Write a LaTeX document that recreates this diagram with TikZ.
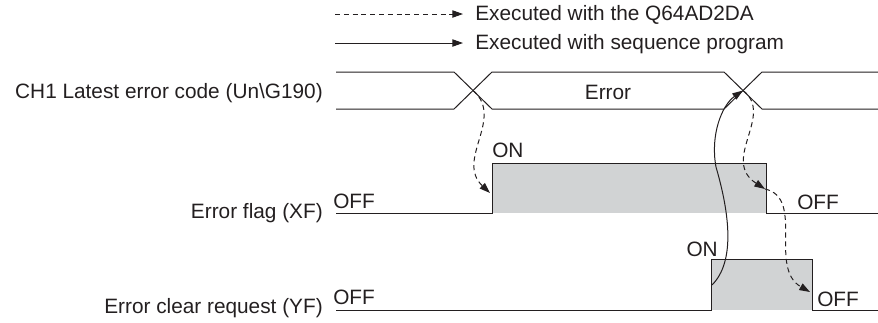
\documentclass[tikz,border=0pt]{standalone}
\usepackage{fontspec}
\setmainfont{Liberation Sans}
\usetikzlibrary{arrows.meta}
\definecolor{sig}{RGB}{35,31,32}
\definecolor{fillg}{RGB}{209,211,212}
\begin{document}
\begin{tikzpicture}[x=0.75pt,y=-0.75pt,
  wave/.style={draw=sig,line width=0.75pt},
  txt/.style={inner sep=0pt,font=\fontsize{15.6}{18}\selectfont,text=sig},
  tip/.style={-{Triangle[length=8pt,width=5.5pt]}},
  dsh/.style={draw=sig,line width=0.75pt,dash pattern=on 3.8pt off 2.8pt,tip},
  sld/.style={draw=sig,line width=0.75pt,tip}]
\useasboundingbox (0,0) rectangle (878,322);
% legend
\coordinate (l1a) at (335,14); \coordinate (l1b) at (463,14);
\coordinate (l2a) at (335,43); \coordinate (l2b) at (463,43);
\node[txt,anchor=base west] (leg1) at (475,20) {Executed with the Q64AD2DA};
\node[txt,anchor=base west] (leg2) at (475,49) {Executed with sequence program};
\draw[dsh] (l1a) -- (l1b);
\draw[sld] (l2a) -- (l2b);
% labels
\node[txt,anchor=base east] (lab1) at (323,98) {CH1 Latest error code (Un\textbackslash G190)};
\node[txt,anchor=base east] (lab2) at (323,218) {Error flag (XF)};
\node[txt,anchor=base east] (lab3) at (323,313) {Error clear request (YF)};
% bus
\draw[wave] (336,72) -- (454,72) -- (492,109) -- (724,109) -- (762,72) -- (878,72);
\draw[wave] (336,109) -- (454,109) -- (492,72) -- (724,72) -- (762,109) -- (878,109);
\coordinate (x1) at (473,90.5);
\coordinate (x2) at (743,90.5);
\node[txt,anchor=base] (err) at (608,99) {Error};
% error flag
\fill[fillg] (492,163) rectangle (766,213);
\draw[wave] (336,213) -- (492,213) -- (492,163) -- (766,163) -- (766,213) -- (878,213);
\node[txt,anchor=base west] (on1) at (492,157) {ON};
\node[txt,anchor=base west] (off1) at (333,208) {OFF};
\node[txt,anchor=base west] (off2) at (797,209) {OFF};
\coordinate (fr) at (490,193);
\coordinate (ff) at (765,189);
% error clear request
\fill[fillg] (711,259) rectangle (812,310);
\draw[wave] (336,310) -- (711,310) -- (711,259) -- (812,259) -- (812,310) -- (878,310);
\node[txt,anchor=base east] (on2) at (718,256) {ON};
\node[txt,anchor=base west] (off3) at (333,304) {OFF};
\node[txt,anchor=base west] (off4) at (817,306) {OFF};
\coordinate (cr) at (712,285);
\coordinate (cf) at (810,292);
% connectors
\draw[dsh] (x1) .. controls (505,118) and (455,160) .. (fr);
\draw[dsh] (x2) .. controls (775,115) and (720,160) .. (ff);
\draw[dsh] (ff) .. controls (805,198) and (768,268) .. (cf);
\draw[sld] (cr) .. controls (735,262) and (730,215) .. (716,167) .. controls (710,135) and (722,105) .. (x2);
\end{tikzpicture}
\end{document}
